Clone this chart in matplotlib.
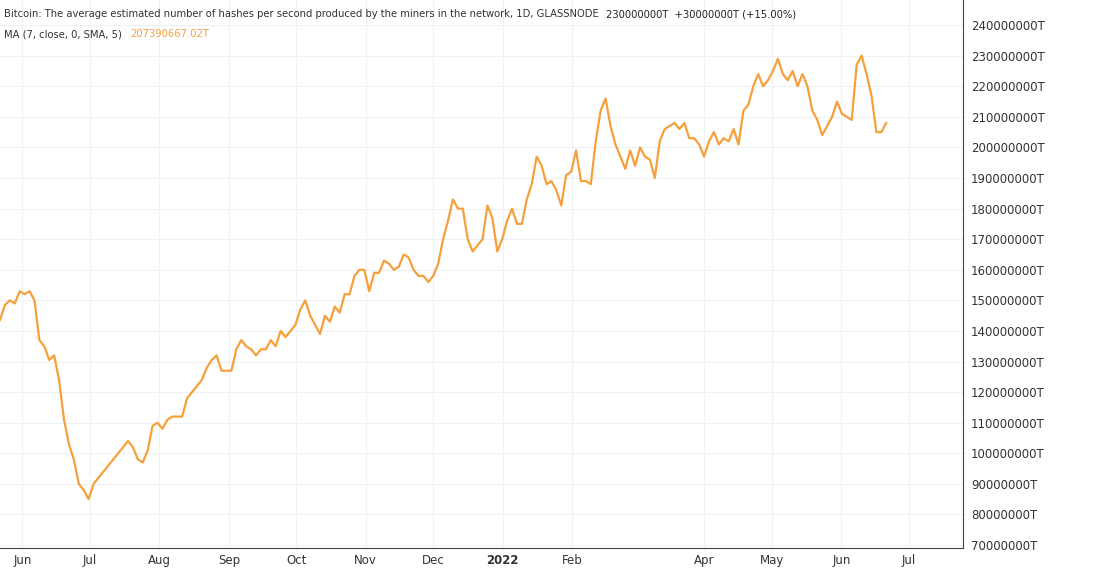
import numpy as np
import pandas as pd
import matplotlib
matplotlib.use("Agg")
import matplotlib.pyplot as plt

# hashrate, in millions of T
hashrate = [143.6, 148.5, 150, 149, 153, 152, 153, 150, 137, 135, 130.5, 132, 124, 111, 103, 98,
            90, 88, 85, 90, 92, 94, 96, 98, 100, 102, 104, 102, 98, 97, 101, 109, 110, 108, 111,
            112, 112, 112, 118, 120, 122, 124, 128, 130.5, 132, 127, 127, 127, 134, 137, 135, 134,
            132, 134, 134, 137, 135, 140, 138, 140, 142, 147, 150, 145, 142, 139, 145, 143, 148,
            146, 152, 152, 158, 160, 160, 153, 159, 159, 163, 162, 160, 161, 165, 164, 160, 158,
            158, 156, 158, 162, 170, 176, 183, 180, 180, 170, 166, 168, 170, 181, 177, 166, 170,
            176, 180, 175, 175, 183, 188, 197, 194, 188, 189, 186, 181, 191, 192, 199, 189, 189,
            188, 202, 212, 216, 207, 201, 197, 193, 199, 194, 200, 197, 196, 190, 202, 206, 207,
            208, 206, 208, 203, 203, 201, 197, 202, 205, 201, 203, 202, 206, 201, 212, 214, 220,
            224, 220, 222, 225, 229, 224, 222, 225, 220, 224, 220, 212, 209, 204, 207, 210, 215,
            211, 210, 209, 227, 230, 224, 217, 205, 205, 208]
dates = pd.date_range("2021-05-22", "2022-06-21", periods=len(hashrate))

ticks = pd.to_datetime(["2021-06-01", "2021-07-01", "2021-08-01", "2021-09-01", "2021-10-01",
                        "2021-11-01", "2021-12-01", "2022-01-01", "2022-02-01", "2022-04-01",
                        "2022-05-01", "2022-06-01", "2022-07-01"])
tick_labels = ["Jun", "Jul", "Aug", "Sep", "Oct", "Nov", "Dec", "2022", "Feb", "Apr", "May", "Jun", "Jul"]
yticks = np.arange(70, 241, 10)

line_color = "#f5a03a"

fig = plt.figure(figsize=(11, 5.68), dpi=100)
ax = fig.add_axes([0, 0.035, 0.875, 0.965])
ax.plot(dates, hashrate, color=line_color, lw=1.6)

ax.set_xlim(pd.Timestamp("2021-05-22"), pd.Timestamp("2022-07-25"))
ax.set_ylim(69, 248.2)
ax.set_xticks(ticks)
ax.set_xticklabels(tick_labels)
ax.get_xticklabels()[7].set_fontweight("bold")
ax.yaxis.tick_right()
ax.set_yticks(yticks)
ax.set_yticklabels([f"{v*1000000:.0f}T" for v in yticks])
ax.tick_params(colors="#333333", labelsize=8.5, length=0, pad=6)
ax.tick_params(axis="x", pad=4)
ax.grid(True, color="#f0f1f4", lw=0.8)
for s in ["top", "left"]:
    ax.spines[s].set_visible(False)
ax.spines["right"].set_color("#444444")
ax.spines["bottom"].set_color("#444444")

fig.text(0.004, 0.975, "Bitcoin: The average estimated number of hashes per second produced by the miners in the network, 1D, GLASSNODE",
         fontsize=7.2, color="#333333", va="center")
fig.text(0.551, 0.975, "230000000T  +30000000T (+15.00%)", fontsize=7.2, color="#222222", va="center")
fig.text(0.004, 0.94, "MA (7, close, 0, SMA, 5)", fontsize=7.2, color="#333333", va="center")
fig.text(0.118, 0.94, "207390667.02T", fontsize=7.2, color=line_color, va="center")

fig.savefig("out.png")
